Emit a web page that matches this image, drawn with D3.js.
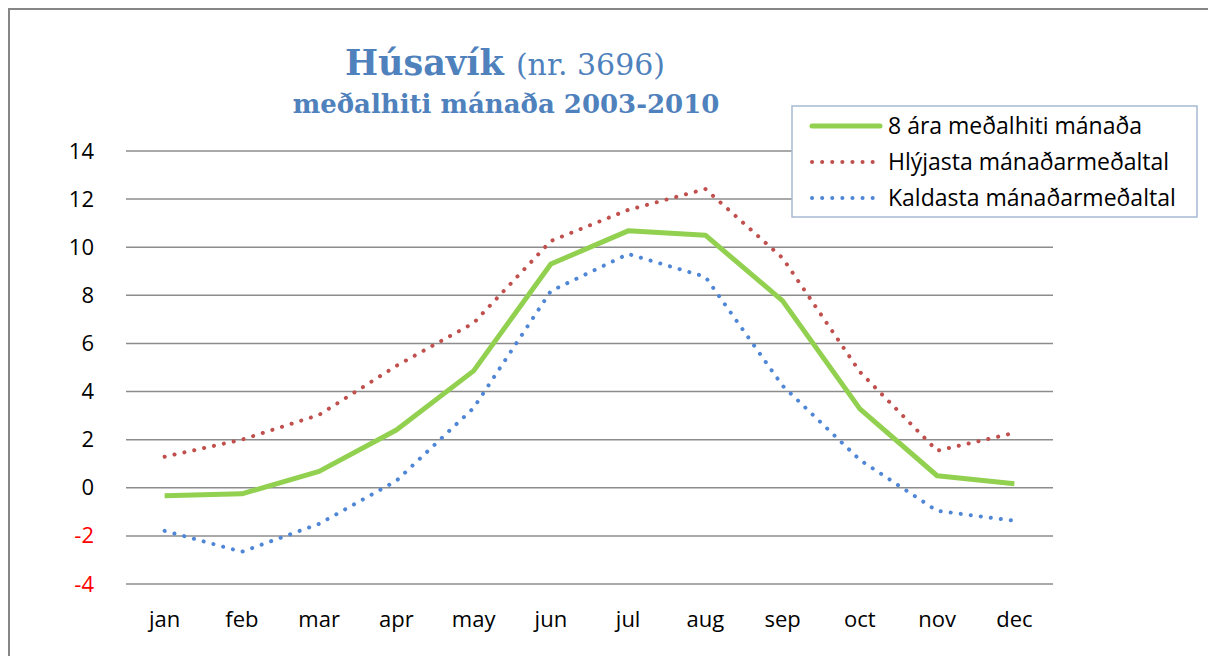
<!DOCTYPE html>
<html>
<head>
<meta charset="utf-8">
<script src="https://cdn.jsdelivr.net/npm/d3@7"></script>
<style>
  body { margin: 0; background: #fff; }
  svg { display: block; }
</style>
</head>
<body>
<div id="chart"></div>
<script>
// months on the x axis
const months = ["jan", "feb", "mar", "apr", "may", "jun", "jul", "aug", "sep", "oct", "nov", "dec"];
// 8 year mean per month
const meanTemp = [-0.33, -0.25, 0.68, 2.4, 4.86, 9.3, 10.68, 10.5, 7.77, 3.28, 0.5, 0.17];
// warmest monthly mean
const warmest = [1.29, 2.0, 3.03, 5.07, 6.85, 10.26, 11.55, 12.42, 9.55, 4.82, 1.54, 2.28];
// coldest monthly mean
const coldest = [-1.79, -2.66, -1.5, 0.29, 3.32, 8.18, 9.72, 8.77, 4.24, 1.16, -0.96, -1.37];
const yTicks = [-4, -2, 0, 2, 4, 6, 8, 10, 12, 14];
const seriesNames = ["8 ára meðalhiti mánaða", "Hlýjasta mánaðarmeðaltal", "Kaldasta mánaðarmeðaltal"];

let width = 1208;
let height = 656;
let labelFont = "'Open Sans', sans-serif";

let svg = d3.select("#chart").append("svg")
    .attr("width", width)
    .attr("height", height);

// outer frame
svg.append("path")
    .attr("d", `M9,${height} V9 H${width}`)
    .attr("fill", "none")
    .attr("stroke", "#868686")
    .attr("stroke-width", 2);

// scales
const xScale = d3.scaleBand()
    .domain(months)
    .range([126, 1053]);

const yScale = d3.scaleLinear()
    .domain([-4, 14])
    .range([584, 151]);

// gridlines
svg.append("g")
    .selectAll("line")
    .data(yTicks)
    .enter()
    .append("line")
    .attr("x1", 126)
    .attr("x2", 1053)
    .attr("y1", d => yScale(d))
    .attr("y2", d => yScale(d))
    .attr("stroke", "#8c8c8c")
    .attr("stroke-width", 1.5);

// y axis labels (plain hyphen for negatives)
const yAxis = svg.append("g")
    .attr("transform", "translate(94,0)")
    .call(d3.axisLeft(yScale).tickValues(yTicks).tickSize(0).tickPadding(0).tickFormat(d => String(d)));
yAxis.select(".domain").remove();
yAxis.selectAll("text")
    .attr("font-family", labelFont)
    .attr("font-size", 22)
    .attr("fill", d => d < 0 ? "#ff0000" : "#000");

// x axis labels
const xAxis = svg.append("g")
    .attr("transform", "translate(0,611)")
    .call(d3.axisBottom(xScale).tickSize(0).tickPadding(0));
xAxis.select(".domain").remove();
xAxis.selectAll("text")
    .attr("font-family", labelFont)
    .attr("font-size", 22)
    .attr("fill", "#000");

// line generator
const line = d3.line()
    .x((d, i) => xScale(months[i]) + xScale.bandwidth() / 2)
    .y(d => yScale(d));

// warmest (red dotted)
svg.append("path")
    .datum(warmest)
    .attr("d", line)
    .attr("fill", "none")
    .attr("stroke", "#c0504d")
    .attr("stroke-width", 4)
    .attr("stroke-linecap", "round")
    .attr("stroke-dasharray", "0.1 10");

// coldest (blue dotted)
svg.append("path")
    .datum(coldest)
    .attr("d", line)
    .attr("fill", "none")
    .attr("stroke", "#4f86d6")
    .attr("stroke-width", 4)
    .attr("stroke-linecap", "round")
    .attr("stroke-dasharray", "0.1 10");

// mean (green solid)
svg.append("path")
    .datum(meanTemp)
    .attr("d", line)
    .attr("fill", "none")
    .attr("stroke", "#92d050")
    .attr("stroke-width", 5)
    .attr("stroke-linejoin", "round");

// title
const title = svg.append("text")
    .attr("x", 505)
    .attr("y", 75)
    .attr("text-anchor", "middle")
    .attr("font-family", "'DejaVu Serif', serif")
    .attr("fill", "#4f81bd");
title.append("tspan")
    .attr("font-weight", "bold")
    .attr("font-size", 35)
    .text("Húsavík ");
title.append("tspan")
    .attr("font-size", 30)
    .text("(nr. 3696)");

svg.append("text")
    .attr("x", 506)
    .attr("y", 113)
    .attr("text-anchor", "middle")
    .attr("font-family", "'DejaVu Serif', serif")
    .attr("font-weight", "bold")
    .attr("font-size", 26)
    .attr("fill", "#4f81bd")
    .text("meðalhiti mánaða 2003-2010");

// legend
const legend = svg.append("g");
legend.append("rect")
    .attr("x", 792)
    .attr("y", 106)
    .attr("width", 405)
    .attr("height", 111)
    .attr("fill", "#fff")
    .attr("stroke", "#a7b9d2")
    .attr("stroke-width", 1.5);

const legendStyles = [
    { color: "#92d050", width: 5, dash: null },
    { color: "#c0504d", width: 4, dash: "0.1 10" },
    { color: "#4f86d6", width: 4, dash: "0.1 10" }
];

seriesNames.forEach((name, i) => {
    let y = 126 + i * 36;
    let s = legendStyles[i];
    let l = legend.append("line")
        .attr("x1", 812)
        .attr("x2", 880)
        .attr("y1", y)
        .attr("y2", y)
        .attr("stroke", s.color)
        .attr("stroke-width", s.width)
        .attr("stroke-linecap", "round");
    if (s.dash) l.attr("stroke-dasharray", s.dash);
    legend.append("text")
        .attr("x", 888)
        .attr("y", y + 8)
        .attr("font-family", labelFont)
        .attr("font-size", 23)
        .attr("fill", "#000")
        .text(name);
});
</script>
</body>
</html>
